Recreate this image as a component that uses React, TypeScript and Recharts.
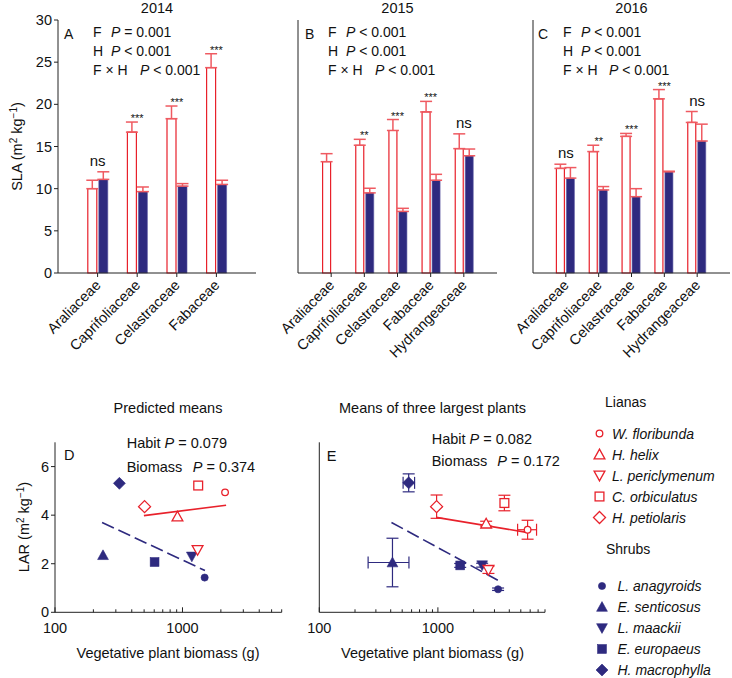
import React from 'react';
import {
  ComposedChart,
  Bar,
  Line,
  XAxis,
  YAxis,
  ErrorBar,
  LabelList,
  ScatterChart,
  Scatter,
} from 'recharts';

const FONT = '"Liberation Sans", Arial, Helvetica, sans-serif';
const LIANA = '#e8212b';
const LIANA_ERR = '#ef5a61';
const SHRUB = '#2e2a7f';
const AXIS = '#222';

// ---- SLA bars (top row) ----
const fam2014 = ['Araliaceae', 'Caprifoliaceae', 'Celastraceae', 'Fabaceae'];
const liana2014 = [10.0, 16.7, 18.3, 24.35];
const lianaErr2014 = [1.0, 1.2, 1.5, 1.65];
const shrub2014 = [11.1, 9.65, 10.3, 10.5];
const shrubErr2014 = [0.9, 0.55, 0.3, 0.5];
const sig2014 = ['ns', '***', '***', '***'];

const fam2015 = ['Araliaceae', 'Caprifoliaceae', 'Celastraceae', 'Fabaceae', 'Hydrangeaceae'];
const liana2015 = [13.2, 15.15, 16.9, 19.1, 14.75];
const lianaErr2015 = [0.95, 0.7, 1.3, 1.25, 1.75];
const shrub2015 = [null, 9.5, 7.3, 11.0, 13.9];
const shrubErr2015 = [null, 0.55, 0.37, 0.7, 0.8];
const sig2015 = ['', '**', '***', '***', 'ns'];

const fam2016 = ['Araliaceae', 'Caprifoliaceae', 'Celastraceae', 'Fabaceae', 'Hydrangeaceae'];
const liana2016 = [12.4, 14.4, 16.2, 20.65, 17.85];
const lianaErr2016 = [0.5, 0.75, 0.35, 1.1, 1.3];
const shrub2016 = [11.25, 9.85, 9.05, 12.0, 15.65];
const shrubErr2016 = [1.25, 0.4, 0.95, 0.07, 2.0];
const sig2016 = ['ns', '**', '***', '***', 'ns'];

const slaTicks = [0, 5, 10, 15, 20, 25, 30];

// ---- LAR scatter (bottom row) ----
type Kind = 'circle' | 'triUp' | 'triDown' | 'square' | 'diamond';
const lianaNames = ['W. floribunda', 'H. helix', 'L. periclymenum', 'C. orbiculatus', 'H. petiolaris'];
const shrubNames = ['L. anagyroids', 'E. senticosus', 'L. maackii', 'E. europaeus', 'H. macrophylla'];
const kinds: Kind[] = ['circle', 'triUp', 'triDown', 'square', 'diamond'];

// D: predicted means
const predLianaBiomass = [2157, 913, 1313, 1328, 504];
const predLianaLAR = [4.94, 3.94, 2.57, 5.22, 4.35];
const predShrubBiomass = [1492, 238, 1184, 604, 320];
const predShrubLAR = [1.43, 2.35, 2.3, 2.07, 5.31];
const predLianaFitX = [498, 2197];
const predLianaFitY = [3.98, 4.41];
const predShrubFitX = [234, 1500];
const predShrubFitY = [3.7, 1.72];

// E: means of three largest plants (errors as [lower, upper])
const bigLianaBiomass = [5706, 2552, 2668, 3637, 975];
const bigLianaBiomassErr = [[1006, 1084], null, null, null, null];
const bigLianaLAR = [3.4, 3.65, 1.75, 4.5, 4.35];
const bigLianaLARErr = [0.39, 0.1, 0.15, 0.32, 0.48];
const bigShrubBiomass = [3217, 414, 2361, 1542, 567];
const bigShrubBiomassErr = [null, [156, 156], null, null, [58, 69]];
const bigShrubLAR = [0.95, 2.05, 1.94, 1.93, 5.33];
const bigShrubLARErr = [0.05, 1.0, 0.08, 0.08, 0.37];
const bigLianaFitX = [968, 5598];
const bigLianaFitY = [3.91, 3.29];
const bigShrubFitX = [406, 3236];
const bigShrubFitY = [3.7, 1.31];

const dTicks = [100, 200, 300, 400, 500, 600, 700, 800, 900, 1000, 2000, 3000, 4000, 5000, 6000];
const eTicks = [100, 200, 300, 400, 500, 600, 700, 800, 900, 1000, 2000, 3000, 4000, 5000, 6000, 7000, 8000];

const buildRows = (
  fam: string[], l: number[], le: number[], s: (number | null)[], se: (number | null)[], sig: string[],
) =>
  fam.map((name, i) => ({
    name,
    liana: l[i],
    lianaErr: [0, le[i]],
    shrub: s[i],
    shrubErr: s[i] == null ? null : [0, se[i] as number],
    sig: sig[i] || null,
    sigY: Math.max(l[i] + le[i], s[i] == null ? 0 : (s[i] as number) + (se[i] as number)),
  }));

const rows2014 = buildRows(fam2014, liana2014, lianaErr2014, shrub2014, shrubErr2014, sig2014);
const rows2015 = buildRows(fam2015, liana2015, lianaErr2015, shrub2015, shrubErr2015, sig2015);
const rows2016 = buildRows(fam2016, liana2016, lianaErr2016, shrub2016, shrubErr2016, sig2016);

const CatTick = (props: any) => {
  const { x, y, payload } = props;
  const ax = x + 4;
  const ay = y + 7;
  return (
    <text x={ax} y={ay} transform={`rotate(-45 ${ax} ${ay})`} textAnchor="end" fontSize={14.5} fontFamily={FONT} fill="#111">
      {payload.value}
    </text>
  );
};

const SigLabel = (props: any) => {
  const { x, y, value } = props;
  if (!value) return null;
  const ns = value === 'ns';
  return (
    <text x={x} y={y - (ns ? 6 : 0)} textAnchor="middle" fontSize={ns ? 15 : 11} fontFamily={FONT} fill="#111">
      {value}
    </text>
  );
};

interface BarPanelProps {
  rows: any[];
  left: number;
  width: number;
  yAxisWidth: number;
  rightMargin: number;
  barSize: number;
  padding: number;
  showLabels: boolean;
}

const BarPanel = ({ rows, left, width, yAxisWidth, rightMargin, barSize, padding, showLabels }: BarPanelProps) => (
  <div style={{ position: 'absolute', left, top: 0 }}>
    <ComposedChart
      width={width}
      height={380}
      data={rows}
      margin={{ top: 20, right: rightMargin, bottom: 27, left: 0 }}
      barSize={barSize}
      barGap={2}
    >
      <XAxis
        dataKey="name"
        height={80}
        interval={0}
        padding={{ left: padding, right: padding }}
        tick={<CatTick />}
        tickSize={4}
        tickLine={{ stroke: AXIS }}
        axisLine={{ stroke: AXIS }}
      />
      <XAxis xAxisId="top" orientation="top" dataKey="name" height={0} tick={false} tickLine={false} axisLine={{ stroke: AXIS }} />
      <YAxis
        width={yAxisWidth}
        domain={[0, 30]}
        ticks={slaTicks}
        interval={0}
        tickSize={4}
        tick={showLabels ? { fill: '#111', fontSize: 14.5, fontFamily: FONT } : false}
        tickLine={{ stroke: AXIS }}
        axisLine={{ stroke: AXIS }}
      />
      <YAxis yAxisId="right" orientation="right" width={0} domain={[0, 30]} tick={false} tickLine={false} axisLine={{ stroke: AXIS }} />
      <Bar dataKey="liana" fill="#fff" stroke={LIANA} strokeWidth={1.2} isAnimationActive={false}>
        <ErrorBar dataKey="lianaErr" direction="y" width={6} stroke={LIANA_ERR} strokeWidth={1.5} />
      </Bar>
      <Bar dataKey="shrub" fill={SHRUB} stroke="#5c59a3" strokeWidth={0.6} isAnimationActive={false}>
        <ErrorBar dataKey="shrubErr" direction="y" width={6} stroke={LIANA_ERR} strokeWidth={1.5} />
      </Bar>
      <Line dataKey="sigY" stroke="none" dot={false} activeDot={false} isAnimationActive={false}>
        <LabelList dataKey="sig" content={<SigLabel />} />
      </Line>
    </ComposedChart>
  </div>
);

const Marker = ({ kind, cx, cy, color, filled }: { kind: Kind; cx: number; cy: number; color: string; filled: boolean }) => {
  const fill = filled ? color : '#fff';
  const sw = filled ? 0.6 : 1.3;
  const common = { fill, stroke: color, strokeWidth: sw };
  if (kind === 'circle') return <circle cx={cx} cy={cy} r={filled ? 3.6 : 3.3} {...common} />;
  if (kind === 'square') {
    const h = 4.4;
    return <rect x={cx - h} y={cy - h} width={2 * h} height={2 * h} {...common} />;
  }
  if (kind === 'diamond') {
    const h = 6;
    return <polygon points={`${cx},${cy - h} ${cx + h},${cy} ${cx},${cy + h} ${cx - h},${cy}`} {...common} />;
  }
  const h = 5.4;
  if (kind === 'triUp')
    return <polygon points={`${cx - h},${cy + h * 0.8} ${cx + h},${cy + h * 0.8} ${cx},${cy - h}`} {...common} />;
  return <polygon points={`${cx - h},${cy - h * 0.8} ${cx + h},${cy - h * 0.8} ${cx},${cy + h}`} {...common} />;
};

const LogTick = (props: any) => {
  const { x, y, payload } = props;
  const major = payload.value === 100 || payload.value === 1000;
  return (
    <g>
      <line x1={x} x2={x} y1={y} y2={y - (major ? 5 : 3)} stroke={AXIS} strokeWidth={1} />
      {major && (
        <text x={x} y={y + 21} textAnchor="middle" fontSize={14.5} fontFamily={FONT} fill="#111">
          {payload.value}
        </text>
      )}
    </g>
  );
};

const noShape = () => <g />;

interface ScatterPanelProps {
  left: number;
  width: number;
  rightMargin: number;
  xMax: number;
  xTicks: number[];
  yTicks: number[];
  showY: boolean;
  lianaX: number[];
  lianaY: number[];
  shrubX: number[];
  shrubY: number[];
  lianaYErr?: number[];
  shrubYErr?: number[];
  lianaXErr?: (number[] | null)[];
  shrubXErr?: (number[] | null)[];
  lianaFitX: number[];
  lianaFitY: number[];
  shrubFitX: number[];
  shrubFitY: number[];
}

const ScatterPanel = (p: ScatterPanelProps) => {
  const fit = (xs: number[], ys: number[]) => xs.map((x, i) => ({ x, y: ys[i] }));
  const series = (group: 'liana' | 'shrub') => {
    const names = group === 'liana' ? lianaNames : shrubNames;
    const xs = group === 'liana' ? p.lianaX : p.shrubX;
    const ys = group === 'liana' ? p.lianaY : p.shrubY;
    const ye = group === 'liana' ? p.lianaYErr : p.shrubYErr;
    const xe = group === 'liana' ? p.lianaXErr : p.shrubXErr;
    const color = group === 'liana' ? LIANA : SHRUB;
    return names.map((name, i) => {
      const pt: any = { x: xs[i], y: ys[i] };
      if (ye) pt.ey = ye[i];
      if (xe && xe[i]) pt.ex = xe[i];
      return (
        <Scatter
          key={group + i}
          name={name}
          data={[pt]}
          isAnimationActive={false}
          shape={(sp: any) => <Marker kind={kinds[i]} cx={sp.cx} cy={sp.cy} color={color} filled={group === 'shrub'} />}
        >
          {ye && <ErrorBar dataKey="ey" direction="y" width={6} stroke={color} strokeWidth={1.2} />}
          {xe && xe[i] && <ErrorBar dataKey="ex" direction="x" width={6} stroke={color} strokeWidth={1.2} />}
        </Scatter>
      );
    });
  };
  return (
    <div style={{ position: 'absolute', left: p.left, top: 420 }}>
      <ScatterChart width={p.width} height={258} margin={{ top: 22.3, right: p.rightMargin, bottom: 16.7, left: 0 }}>
        <XAxis
          type="number"
          dataKey="x"
          scale="log"
          domain={[100, p.xMax]}
          ticks={p.xTicks}
          interval={0}
          allowDataOverflow
          tick={<LogTick />}
          tickLine={false}
          tickSize={0}
          tickMargin={0}
          height={49}
          axisLine={{ stroke: AXIS }}
        />
        <YAxis
          type="number"
          dataKey="y"
          domain={[0, 7]}
          ticks={p.yTicks}
          interval={0}
          width={p.showY ? 55 : 29.3}
          tickSize={4}
          tick={p.showY ? { fill: '#111', fontSize: 14.5, fontFamily: FONT } : false}
          tickLine={{ stroke: AXIS }}
          axisLine={{ stroke: AXIS }}
        />
        <Scatter data={fit(p.lianaFitX, p.lianaFitY)} line={{ stroke: LIANA, strokeWidth: 1.6 }} shape={noShape} legendType="none" isAnimationActive={false} />
        <Scatter
          data={fit(p.shrubFitX, p.shrubFitY)}
          line={{ stroke: SHRUB, strokeWidth: 1.6, strokeDasharray: '13 5' }}
          shape={noShape}
          legendType="none"
          isAnimationActive={false}
        />
        {series('shrub')}
        {series('liana')}
      </ScatterChart>
    </div>
  );
};

const txt = { fontFamily: FONT, fill: '#111' };

const PanelStats = ({ letter, lx, x, p1, p2, p3, vals }: { letter: string; lx: number; x: number; p1: number; p2: number; p3: number; vals: string[] }) => (
  <g fontSize={14} {...txt}>
    <text x={lx} y={39}>{letter}</text>
    <text x={x} y={37}>F</text>
    <text x={p1} y={37}><tspan fontStyle="italic">P</tspan>{vals[0]}</text>
    <text x={x} y={56}>H</text>
    <text x={p2} y={56}><tspan fontStyle="italic">P</tspan>{vals[1]}</text>
    <text x={x} y={75}>F × H</text>
    <text x={p3} y={75}><tspan fontStyle="italic">P</tspan>{vals[2]}</text>
  </g>
);

const Overlay = () => (
  <svg width={732} height={678} style={{ position: 'absolute', left: 0, top: 0, pointerEvents: 'none' }}>
    {/* year titles */}
    <g fontSize={14.5} textAnchor="middle" {...txt}>
      <text x={157} y={13}>2014</text>
      <text x={397.5} y={13}>2015</text>
      <text x={631.5} y={13}>2016</text>
    </g>
    <PanelStats letter="A" lx={64} x={93} p1={111} p2={111} p3={140} vals={[' = 0.001', ' < 0.001', ' < 0.001']} />
    <PanelStats letter="B" lx={305} x={328} p1={346} p2={346} p3={375} vals={[' < 0.001', ' < 0.001', ' < 0.001']} />
    <PanelStats letter="C" lx={538} x={563} p1={581} p2={581} p3={609} vals={[' < 0.001', ' < 0.001', ' < 0.001']} />
    {/* SLA axis label */}
    <text transform="translate(21.5 146.5) rotate(-90)" textAnchor="middle" fontSize={14.5} {...txt}>
      SLA (m<tspan dy={-5} fontSize={10}>2</tspan><tspan dy={5}> kg</tspan><tspan dy={-5} fontSize={10}>−1</tspan><tspan dy={5}>)</tspan>
    </text>

    {/* bottom panel titles & stats */}
    <g fontSize={14.5} {...txt}>
      <text x={168} y={413} textAnchor="middle">Predicted means</text>
      <text x={432.5} y={413} textAnchor="middle">Means of three largest plants</text>
      <text x={126.7} y={448}>Habit <tspan fontStyle="italic">P</tspan> = 0.079</text>
      <text x={126.7} y={472}>Biomass <tspan x={192.7} fontStyle="italic">P</tspan> = 0.374</text>
      <text x={431.7} y={444}>Habit <tspan fontStyle="italic">P</tspan> = 0.082</text>
      <text x={431.7} y={466}>Biomass <tspan x={497.3} fontStyle="italic">P</tspan> = 0.172</text>
      <text x={64} y={460}>D</text>
      <text x={326.7} y={461}>E</text>
    </g>
    <text transform="translate(29 527) rotate(-90)" textAnchor="middle" fontSize={14.5} {...txt}>
      LAR (m<tspan dy={-5} fontSize={10}>2</tspan><tspan dy={5}> kg</tspan><tspan dy={-5} fontSize={10}>−1</tspan><tspan dy={5}>)</tspan>
    </text>
    <g fontSize={14.5} textAnchor="middle" {...txt}>
      <text x={168} y={658}>Vegetative plant biomass (g)</text>
      <text x={432.5} y={658}>Vegetative plant biomass (g)</text>
    </g>

    {/* legend */}
    <g fontSize={14} {...txt}>
      <text x={605} y={407}>Lianas</text>
      {lianaNames.map((n, i) => (
        <g key={n}>
          <Marker kind={kinds[i]} cx={599.5} cy={433.5 + i * 21} color={LIANA} filled={false} />
          <text x={612} y={438.5 + i * 21} fontStyle="italic">{n}</text>
        </g>
      ))}
      <text x={606} y={554}>Shrubs</text>
      {shrubNames.map((n, i) => (
        <g key={n}>
          <Marker kind={kinds[i]} cx={602} cy={586 + i * 21} color={SHRUB} filled />
          <text x={617.5} y={591 + i * 21} fontStyle="italic">{n}</text>
        </g>
      ))}
    </g>
  </svg>
);

const App: React.FC = () => (
  <div style={{ position: 'absolute', left: 0, top: 0, width: 732, height: 678, background: '#fff', overflow: 'hidden' }}>
    <BarPanel rows={rows2014} left={0} width={262} yAxisWidth={58} rightMargin={6} barSize={9} padding={19.8} showLabels />
    <BarPanel rows={rows2015} left={262} width={240} yAxisWidth={36} rightMargin={5} barSize={8} padding={16.6} showLabels={false} />
    <BarPanel rows={rows2016} left={502} width={230} yAxisWidth={31} rightMargin={2} barSize={8} padding={16.4} showLabels={false} />
    <ScatterPanel
      left={0}
      width={290}
      rightMargin={8.3}
      xMax={6000}
      xTicks={dTicks}
      yTicks={[0, 2, 4, 6]}
      showY
      lianaX={predLianaBiomass}
      lianaY={predLianaLAR}
      shrubX={predShrubBiomass}
      shrubY={predShrubLAR}
      lianaFitX={predLianaFitX}
      lianaFitY={predLianaFitY}
      shrubFitX={predShrubFitX}
      shrubFitY={predShrubFitY}
    />
    <ScatterPanel
      left={290}
      width={260}
      rightMargin={5}
      xMax={8000}
      xTicks={eTicks}
      yTicks={[0, 1, 2, 3, 4, 5, 6]}
      showY={false}
      lianaX={bigLianaBiomass}
      lianaY={bigLianaLAR}
      shrubX={bigShrubBiomass}
      shrubY={bigShrubLAR}
      lianaYErr={bigLianaLARErr}
      shrubYErr={bigShrubLARErr}
      lianaXErr={bigLianaBiomassErr}
      shrubXErr={bigShrubBiomassErr}
      lianaFitX={bigLianaFitX}
      lianaFitY={bigLianaFitY}
      shrubFitX={bigShrubFitX}
      shrubFitY={bigShrubFitY}
    />
    <Overlay />
  </div>
);

export default App;
